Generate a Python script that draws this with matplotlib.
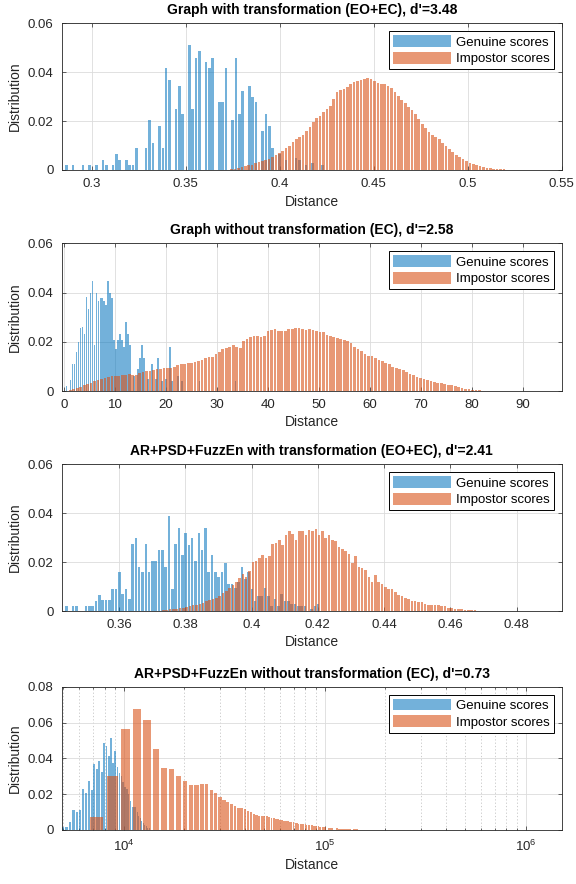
import numpy as np
import matplotlib.pyplot as plt

plt.rcParams['font.family'] = ['Liberation Sans', 'DejaVu Sans']

# ---- panel 1: Graph with transformation (EO+EC)
gen1_edge, gen1_w = 0.28581, 0.00177
gen1 = [0.002, 0, 0.002, 0, 0, 0.002, 0, 0.002, 0, 0.002,
        0, 0.004, 0.002, 0, 0.002, 0.0065, 0.004, 0, 0.004, 0.002,
        0.002, 0.009, 0, 0, 0.009, 0.0205, 0.011, 0, 0.018, 0.009,
        0.0416, 0.037, 0, 0.025, 0.0345, 0.023, 0, 0.051, 0.025, 0.046,
        0.0485, 0, 0.044, 0.0416, 0.046, 0, 0.0277, 0.0277, 0.0416, 0,
        0.0205, 0.046, 0.023, 0.0324, 0, 0.0345, 0.030, 0.0277, 0, 0.016,
        0.023, 0.018, 0.009, 0, 0.0065, 0, 0.004, 0, 0, 0.005,
        0.004, 0, 0.002, 0, 0.003, 0, 0, 0.002]
imp1_edge, imp1_w = 0.37373, 0.00181
imp1 = [0.0004, 0.0006, 0.0008, 0.0012, 0.0015, 0.0019, 0.0022, 0.0027, 0.0031, 0.0036,
        0.0041, 0.0046, 0.0054, 0.0062, 0.0070, 0.0078, 0.0090, 0.0100, 0.0113, 0.0125,
        0.0133, 0.0142, 0.0160, 0.0176, 0.0195, 0.0212, 0.0222, 0.0238, 0.0250, 0.0262,
        0.0290, 0.0318, 0.0328, 0.0332, 0.0340, 0.0352, 0.0358, 0.0365, 0.0370, 0.0372,
        0.0375, 0.0371, 0.0362, 0.0356, 0.0351, 0.0350, 0.0344, 0.0334, 0.0318, 0.0303,
        0.0288, 0.0272, 0.0258, 0.0244, 0.0228, 0.0208, 0.0187, 0.0170, 0.0155, 0.0142,
        0.0133, 0.0125, 0.0112, 0.0099, 0.0087, 0.0073, 0.0063, 0.0055, 0.0045, 0.0035,
        0.0027, 0.0023, 0.0020, 0.0018, 0.0014, 0.0010, 0.0008, 0.0006, 0.0005, 0.0004, 0.0003]
title1 = "Graph with transformation (EO+EC), d'=3.48"
xticks1 = [0.3, 0.35, 0.4, 0.45, 0.5, 0.55]
xlabels1 = ['0.3', '0.35', '0.4', '0.45', '0.5', '0.55']

# ---- panel 2: Graph without transformation (EC)
gen2_edge, gen2_w = 0.325, 0.39
gen2 = [0.002, 0, 0.0043, 0.011, 0.011, 0.016, 0.020, 0.0255, 0.026, 0.023,
        0.038, 0.0335, 0.040, 0.0448, 0.0185, 0.040, 0.0366, 0.0378, 0.0378, 0.0366,
        0.035, 0.0448, 0.040, 0.0378, 0.0206, 0.017, 0.0206, 0.023, 0.0206, 0.018,
        0.028, 0.023, 0.0185, 0, 0.006, 0, 0.009, 0.0136, 0.0185, 0.0136,
        0, 0.005, 0, 0.011, 0, 0.005, 0.0136, 0, 0.004, 0,
        0.005, 0, 0.018, 0.004, 0, 0, 0.006, 0, 0.004, 0,
        0, 0, 0, 0, 0, 0, 0, 0.004, 0, 0,
        0, 0, 0, 0, 0, 0, 0, 0, 0, 0,
        0, 0, 0, 0, 0, 0.004]
imp2_edge, imp2_w = 0.96, 0.68
imp2 = [0.0005, 0.001, 0.0013, 0.0018, 0.0024, 0.003, 0.0034, 0.004, 0.0045, 0.005,
        0.0053, 0.0056, 0.006, 0.006, 0.0062, 0.0064, 0.0066, 0.0068, 0.0067, 0.0065,
        0.0072, 0.0077, 0.008, 0.0083, 0.0086, 0.0089, 0.0091, 0.0093, 0.0094, 0.0095,
        0.0098, 0.0105, 0.0108, 0.011, 0.0113, 0.0114, 0.0116, 0.012, 0.0126, 0.0135,
        0.0138, 0.0139, 0.015, 0.016, 0.017, 0.0173, 0.0177, 0.0185, 0.018, 0.0176,
        0.0205, 0.021, 0.022, 0.0222, 0.0222, 0.022, 0.0222, 0.0243, 0.0248, 0.025,
        0.0244, 0.0243, 0.0245, 0.025, 0.0253, 0.0256, 0.0255, 0.025, 0.0248, 0.0252,
        0.0246, 0.0243, 0.0241, 0.0238, 0.0226, 0.0222, 0.0219, 0.0215, 0.0211, 0.0207,
        0.0203, 0.0193, 0.018, 0.017, 0.0161, 0.0152, 0.0143, 0.0141, 0.0133, 0.0127,
        0.0121, 0.0114, 0.0108, 0.0097, 0.0092, 0.0089, 0.0084, 0.0077, 0.0071, 0.0067,
        0.0058, 0.0052, 0.0047, 0.0043, 0.0039, 0.0035, 0.0033, 0.0031, 0.0029, 0.0025,
        0.0023, 0.0019, 0.0015, 0.0012, 0.0009, 0.0008, 0.0006, 0.0004, 0.0003, 0.0002, 0.0002]
title2 = "Graph without transformation (EC), d'=2.58"
xticks2 = [0, 10, 20, 30, 40, 50, 60, 70, 80, 90]
xlabels2 = ['0', '10', '20', '30', '40', '50', '60', '70', '80', '90']

# ---- panel 3: AR+PSD+FuzzEn with transformation (EO+EC)
gen3_edge, gen3_w = 0.3437, 0.001
gen3 = [0.002, 0, 0.002, 0.002, 0, 0, 0.002, 0.002, 0.002, 0.004,
        0.0065, 0.0045, 0.0045, 0.0045, 0.009, 0.009, 0.016, 0.007, 0.009, 0.005,
        0.0275, 0.030, 0.018, 0.016, 0.0275, 0.016, 0.0205, 0.0205, 0.025, 0.025,
        0.018, 0.039, 0.009, 0.0275, 0.034, 0.023, 0.032, 0.027, 0.030, 0.0205,
        0.032, 0.025, 0.034, 0.016, 0.023, 0.016, 0.014, 0.016, 0.0195, 0.011,
        0.011, 0.0095, 0.012, 0.018, 0.013, 0.016, 0.009, 0.004, 0.006, 0.006,
        0.0095, 0.006, 0.002, 0.005, 0.002, 0.007, 0.004, 0.004, 0.003, 0.003,
        0.002, 0.002, 0.002, 0, 0.001, 0.002, 0.003]
imp3_edge, imp3_w = 0.373, 0.001
imp3 = [0.0003, 0.0005, 0.0007, 0.0008, 0.001, 0.0012, 0.0014, 0.0017, 0.002, 0.0023,
        0.0026, 0.003, 0.0034, 0.004, 0.0044, 0.005, 0.0055, 0.0062, 0.0072, 0.0082,
        0.0095, 0.0108, 0.012, 0.0135, 0.015, 0.014, 0.0162, 0.020, 0.0205, 0.0218,
        0.0228, 0.0215, 0.0225, 0.0272, 0.0278, 0.029, 0.027, 0.031, 0.0326, 0.0314,
        0.029, 0.0326, 0.0326, 0.031, 0.0333, 0.0328, 0.0337, 0.031, 0.0329, 0.030,
        0.031, 0.029, 0.0286, 0.026, 0.0254, 0.0247, 0.0233, 0.0197, 0.0223, 0.018,
        0.0176, 0.0169, 0.014, 0.0119, 0.0147, 0.0119, 0.011, 0.0097, 0.009, 0.009,
        0.0076, 0.0066, 0.0061, 0.0054, 0.0051, 0.004, 0.004, 0.0037, 0.0037, 0.0029,
        0.0026, 0.0026, 0.0023, 0.0023, 0.0019, 0.0019, 0.0014, 0.0011, 0.0009, 0.0008,
        0.0007, 0.0005, 0.0004, 0.0003, 0.0003, 0.0002, 0.0002, 0.0001]
title3 = "AR+PSD+FuzzEn with transformation (EO+EC), d'=2.41"
xticks3 = [0.36, 0.38, 0.4, 0.42, 0.44, 0.46, 0.48]
xlabels3 = ['0.36', '0.38', '0.4', '0.42', '0.44', '0.46', '0.48']

# ---- panel 4: AR+PSD+FuzzEn without transformation (EC), log x
gen4_edge, gen4_w = 4882, 215
gen4 = [0.0019, 0.0019, 0.0047, 0.0112, 0.0103, 0.0112, 0.0228, 0.0206, 0.0271, 0.0224,
        0.0368, 0.0342, 0.0383, 0.0323, 0.0486, 0.0467, 0.0411, 0.0514, 0.0374, 0.0439,
        0.035, 0.032, 0.030, 0.027, 0.024, 0.023, 0.020, 0.016, 0.013, 0.013,
        0.013, 0.010, 0.008, 0.0065, 0.005, 0.004, 0.003, 0.002, 0.001, 0.001]
imp4_edge, imp4_w = 6780, 1420
imp4 = [0.0073, 0.0303, 0.0565, 0.0677, 0.0612, 0.0453, 0.0344, 0.0338, 0.0304, 0.0276,
        0.0252, 0.0252, 0.0256, 0.0256, 0.0224, 0.0206, 0.0187, 0.0168, 0.0155, 0.0144,
        0.0135, 0.0125, 0.0121, 0.0116, 0.0107, 0.0099, 0.0088, 0.0084, 0.0077, 0.0077,
        0.0076, 0.0076, 0.0074, 0.0068, 0.0065, 0.0062, 0.0059, 0.0057, 0.0054, 0.0052,
        0.005, 0.0048, 0.0046, 0.0044, 0.0042, 0.0040, 0.0038, 0.0036, 0.0034, 0.0033,
        0.0032, 0.0031, 0.0030, 0.0029, 0.0028, 0.0028, 0.0026, 0.0025, 0.0023, 0.0021,
        0.0020, 0.0019, 0.0018, 0.0017, 0.0016, 0.0015, 0.0014, 0.0013, 0.0013, 0.0012,
        0.0011, 0.0011, 0.0010, 0.0010, 0.0009, 0.0009, 0.0009, 0.0008, 0.0008, 0.0008,
        0.0007, 0.0007, 0.0007, 0.0006, 0.0006, 0.0006, 0.0005, 0.0005, 0.0005, 0.0005,
        0.0004, 0.0004, 0.0004, 0.0004, 0.0003, 0.0003, 0.0003, 0.0003, 0.0003, 0.0003,
        0.0002, 0.0002, 0.0002, 0.0002, 0.0002, 0.0002, 0.0002]
title4 = "AR+PSD+FuzzEn without transformation (EC), d'=0.73"
xticks4 = [1e4, 1e5, 1e6]

gen_color = (0.0, 0.447, 0.741)
imp_color = (0.85, 0.325, 0.098)
axcol = (0.15, 0.15, 0.15)

fig = plt.figure(figsize=(5.76, 8.84), dpi=100)

# axes boxes in pixels: (top, bottom) measured from the top of the figure
boxes = [(23.3, 170), (243.3, 391), (464.3, 611), (686.7, 830)]

panels = [
    (gen1_edge, gen1_w, gen1, imp1_edge, imp1_w, imp1, title1, (0.2842, 0.55), 0.06),
    (gen2_edge, gen2_w, gen2, imp2_edge, imp2_w, imp2, title2, (-0.4, 97.6), 0.06),
    (gen3_edge, gen3_w, gen3, imp3_edge, imp3_w, imp3, title3, (0.3428, 0.4936), 0.06),
    (gen4_edge, gen4_w, gen4, imp4_edge, imp4_w, imp4, title4, (4915, 1.51e6), 0.08),
]
xtick_sets = [(xticks1, xlabels1), (xticks2, xlabels2), (xticks3, xlabels3), (xticks4, None)]

for i, p in enumerate(panels):
    ge, gw, gv, ie, iw, iv, title, xl, ymax = p
    top, bot = boxes[i]
    ax = fig.add_axes([62/576, (884 - bot)/884, 499.7/576, (bot - top)/884])
    if i == 3:
        ax.set_xscale('log')
    ax.bar(ge + gw*np.arange(len(gv)), gv, width=gw*0.78, align='edge',
           color=gen_color, alpha=0.55, linewidth=0, label='Genuine scores')
    ax.bar(ie + iw*np.arange(len(iv)), iv, width=iw*0.78, align='edge',
           color=imp_color, alpha=0.6, linewidth=0, label='Impostor scores')
    ax.set_xlim(xl)
    ax.set_ylim(0, ymax)
    yt = np.arange(0, ymax + 0.001, 0.02)
    ax.set_yticks(yt)
    ax.set_yticklabels(['0'] + ['%.2f' % v for v in yt[1:]])
    xt, xlab = xtick_sets[i]
    ax.set_xticks(xt)
    if xlab is not None:
        ax.set_xticklabels(xlab)
    ax.grid(True, which='major', color='#dcdcdc', linewidth=0.6)
    if i == 3:
        ax.grid(True, which='minor', color='#c4c4c4', linewidth=0.6, linestyle=(0, (1.5, 2.5)))
    ax.set_axisbelow(True)
    ax.tick_params(which='both', direction='in', top=True, right=True,
                   labelsize=9.5, colors=axcol, width=0.5)
    ax.tick_params(which='major', length=3)
    ax.tick_params(which='minor', length=1.5)
    ax.tick_params(axis='x', which='both', pad=6)
    ax.tick_params(axis='y', which='both', pad=6)
    for s in ax.spines.values():
        s.set_color(axcol)
        s.set_linewidth(0.6)
    ax.set_title(title, fontsize=10, fontweight='bold', pad=6.5, color='black')
    ax.set_xlabel('Distance', fontsize=10, color=axcol, labelpad=3)
    ax.set_ylabel('Distribution', fontsize=10, color=axcol, labelpad=4)
    leg = ax.legend(loc='upper right', fontsize=9.5, handlelength=4.4, handleheight=1.0,
                    fancybox=False, framealpha=1, edgecolor='black',
                    borderaxespad=0.6, borderpad=0.3, labelspacing=0.25, handletextpad=0.4)
    leg.get_frame().set_linewidth(0.7)

fig.savefig('out.png', dpi=100)
